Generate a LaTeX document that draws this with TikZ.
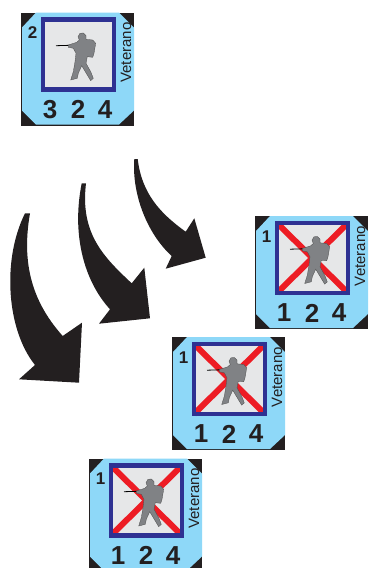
\documentclass[tikz,border=0pt]{standalone}
\usepackage{fontspec}
\setmainfont{Liberation Sans}
\definecolor{counterblue}{HTML}{8ED8F8}
\definecolor{framegray}{HTML}{E6E7E8}
\definecolor{framenavy}{HTML}{2E3192}
\definecolor{crossred}{HTML}{ED1C24}
\definecolor{figuregray}{HTML}{808285}
\definecolor{arrowblack}{HTML}{231F20}
\tikzset{
  statlabel/.style={font=\fontsize{26}{26}\selectfont\bfseries,text=arrowblack,inner sep=0pt},
  smalllabel/.style={font=\fontsize{17}{17}\selectfont\bfseries,text=arrowblack,inner sep=0pt},
  ranklabel/.style={font=\fontsize{15}{15}\selectfont,text=arrowblack,inner sep=0pt,rotate=90},
  bigarrow/.style={fill=arrowblack,draw=none},
}
% #1 name, #2 x, #3 y, #4 small number, #5 first stat, #6 drawn over the frame
\newcommand{\counterunit}[6]{
\begin{scope}[shift={(#2,#3)}]
\fill[arrowblack] (0,0) rectangle (113,113);
\fill[counterblue] (15,0) -- (98,0) -- (113,15) -- (113,98) -- (98,112) -- (15,112) -- (1,98) -- (1,15) -- cycle;
\fill[framegray] (20,5) rectangle (95,79);
#6
\draw[framenavy,line width=4.5pt] (22.2,7.2) rectangle (92.8,76.8);
\draw[black,line width=0.8pt] (35,33.2) -- (49,32.8);
\fill[figuregray,draw=black!70,line width=0.3pt] (47.3,32.5) -- (55.7,29.8) -- (58.3,27.5) -- (57,24.2) -- (59,20.8) -- (62.3,20.5) -- (65,23.2) -- (65,26.8) -- (71.7,27.5) -- (74.7,30.8) -- (73,40.8) -- (71.7,44.8) -- (66.3,44.2) -- (65,50.8) -- (69.7,59.2) -- (72.3,65.8) -- (69.7,68.2) -- (66.3,62.5) -- (60.7,53.2) -- (57.3,60.8) -- (56.3,65.8) -- (49.7,67.5) -- (52.3,59.2) -- (54,49.2) -- (55,40.8) -- (52.3,35.8) -- (47.3,34.8) -- cycle;
\node[smalllabel] (#1num) at (11.7,20.5) {#4};
\node[ranklabel] (#1rank) at (105,40) {Veterano};
\node[statlabel] (#1a) at (29,97) {#5};
\node[statlabel] (#1b) at (57,97) {2};
\node[statlabel] (#1c) at (84,97) {4};
\end{scope}
}
\newcommand{\crossmark}{
\draw[crossred,line width=6pt] (22,7) -- (93,77);
\draw[crossred,line width=6pt] (93,7) -- (22,77);
}
\begin{document}
\begin{tikzpicture}[x=1pt,y=-1pt]
\useasboundingbox (0,0) rectangle (368,568);
\fill[white] (0,0) rectangle (368,568);
\counterunit{top}{21}{12.5}{2}{3}{}
\counterunit{first}{255}{216}{1}{1}{\crossmark}
\counterunit{second}{172}{337}{1}{1}{\crossmark}
\counterunit{third}{89}{458.5}{1}{1}{\crossmark}
% arrows, right to left
\fill[bigarrow] (134.3,159) .. controls (131.7,193.3) and (146.7,233.3) .. (171.7,256) -- (165.7,268.7) -- (205.7,257.7) -- (194.3,218.3) -- (185.7,231.7) .. controls (160,213.3) and (141.7,193.3) .. (137.7,159) -- cycle;
\fill[bigarrow] (81.7,183.3) .. controls (71.7,233.3) and (83.3,280) .. (110,309.3) -- (99,323.7) -- (150,318.3) -- (144.3,267.7) -- (131.7,283.3) .. controls (103.3,256.7) and (80,233.3) .. (86,183.3) -- cycle;
\fill[bigarrow] (25,213.3) .. controls (1.7,260) and (6.7,330) .. (35,365) -- (19,379.3) -- (79,382.7) -- (82,322.7) -- (62.7,336) .. controls (36.7,306.7) and (20,270) .. (30,213.3) -- cycle;
\end{tikzpicture}
\end{document}
